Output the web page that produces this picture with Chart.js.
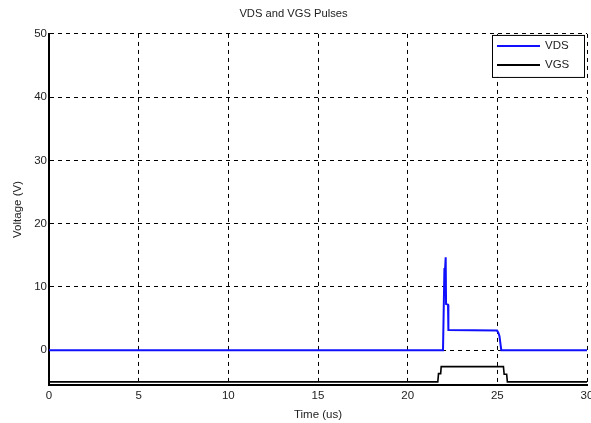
<!DOCTYPE html>
<html>
<head>
<meta charset="utf-8">
<script src="https://cdn.jsdelivr.net/npm/chart.js@4/dist/chart.umd.min.js"></script>
<style>
  html, body { margin: 0; padding: 0; background: #fff; overflow: hidden; }
  #wrap { width: 600px; height: 423px; }
</style>
</head>
<body>
<div id="wrap"><canvas id="c" width="600" height="423"></canvas></div>
<script>
// Drain-source voltage trace (time in us, volts)
const vdsTime   = [0, 21.97, 22.05, 22.08, 22.12, 22.14, 22.25, 22.27, 24.98, 25.05, 25.12, 25.22, 30];
const vdsValues = [0, 0,     13.0,  12.5,  14.7,  7.3,   7.2,   3.2,   3.1,   2.8,   2.2,   0,     0];

// Gate-source voltage trace
const vgsTime   = [0,  21.68, 21.72, 21.84, 21.87, 25.34, 25.38, 25.52, 25.56, 30];
const vgsValues = [-5, -5,    -3.7,  -3.7,  -2.6,  -2.6,  -3.8,  -3.8,  -5,    -5];

// Axis tick positions
const xTicks = [0, 5, 10, 15, 20, 25, 30];
const yTicks = [0, 10, 20, 30, 40, 50];

const toPoints = (t, v) => t.map((x, i) => ({ x: x, y: v[i] }));

const FONT = "'Liberation Sans', Arial, sans-serif";
const TEXT = '#222';

// Boxed legend drawn in the upper-right corner of the plot
const boxLegend = {
  id: 'boxLegend',
  afterDraw(chart) {
    const { ctx, chartArea } = chart;
    const w = 92, h = 42;
    const x0 = chartArea.right - w - 3, y0 = chartArea.top + 1;
    ctx.save();
    ctx.fillStyle = '#fff';
    ctx.fillRect(x0, y0, w, h);
    ctx.strokeStyle = '#000';
    ctx.lineWidth = 1;
    ctx.strokeRect(x0 + 0.5, y0 + 0.5, w, h);
    ctx.font = '11.5px ' + FONT;
    ctx.textBaseline = 'middle';
    chart.data.datasets.forEach((ds, i) => {
      const y = y0 + 11 + i * 19;
      ctx.strokeStyle = ds.borderColor;
      ctx.lineWidth = 2;
      ctx.beginPath();
      ctx.moveTo(x0 + 5, y);
      ctx.lineTo(x0 + 48, y);
      ctx.stroke();
      ctx.fillStyle = TEXT;
      ctx.fillText(ds.label, x0 + 53, y);
    });
    ctx.restore();
  }
};

new Chart(document.getElementById('c'), {
  type: 'line',
  data: {
    datasets: [
      { label: 'VDS', data: toPoints(vdsTime, vdsValues), borderColor: '#1010ff', borderWidth: 2, pointRadius: 0, tension: 0 },
      { label: 'VGS', data: toPoints(vgsTime, vgsValues), borderColor: '#000000', borderWidth: 1.6, pointRadius: 0, tension: 0 }
    ]
  },
  options: {
    responsive: false,
    animation: false,
    events: [],
    layout: { padding: { left: 0, right: 13, top: 0, bottom: 0 } },
    plugins: {
      legend: { display: false },
      tooltip: { enabled: false },
      title: {
        display: true,
        text: 'VDS and VGS Pulses',
        color: TEXT,
        font: { family: FONT, size: 11.2, weight: 'normal' },
        padding: { top: 7, bottom: 13.5 }
      }
    },
    scales: {
      x: {
        type: 'linear',
        min: 0, max: 30,
        afterBuildTicks: s => { s.ticks = xTicks.map(v => ({ value: v })); },
        afterFit: s => { s.height = 38; },
        ticks: { color: TEXT, font: { family: FONT, size: 11.5 }, padding: 4, maxRotation: 0, autoSkip: false },
        grid: { color: '#000', lineWidth: 1, drawTicks: false },
        border: { display: true, color: '#000', width: 2, dash: [4, 4] },
        title: { display: true, text: 'Time (us)', color: TEXT, font: { family: FONT, size: 11.5 }, padding: { top: 1, bottom: 1 } }
      },
      y: {
        type: 'linear',
        min: -5.5, max: 50,
        afterBuildTicks: s => { s.ticks = yTicks.map(v => ({ value: v })); },
        afterFit: s => { s.width = 49; },
        ticks: { color: TEXT, font: { family: FONT, size: 11.5 }, padding: 2, autoSkip: false },
        grid: { color: '#000', lineWidth: 1, drawTicks: false },
        border: { display: true, color: '#000', width: 2, dash: [4, 4] },
        title: { display: true, text: 'Voltage (V)', color: TEXT, font: { family: FONT, size: 11.5 }, padding: { top: 11, bottom: 11 } }
      }
    }
  },
  plugins: [boxLegend]
});
</script>
</body>
</html>
